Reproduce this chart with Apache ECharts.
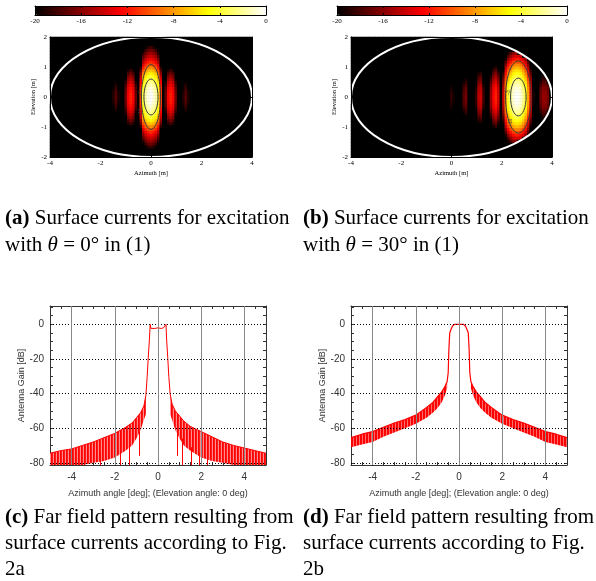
<!DOCTYPE html>
<html>
<head>
<meta charset="utf-8">
<script src="https://cdn.jsdelivr.net/npm/echarts@6.0.0/dist/echarts.min.js"></script>
<style>
  html, body { margin: 0; padding: 0; background: #fff; }
  #chart { width: 596px; height: 581px; }
</style>
</head>
<body>
<div id="chart"></div>
<script>
  // ---- surface currents (dB) ----
  // azimuth profile at elevation 0, from -4 m to 4 m in 0.1 m steps
  var azProfileA = [
    -30, -30, -30, -30, -30, -30, -30, -30, -30, -30,
    -30, -30, -30, -30, -30, -30, -30, -30, -30, -30,
    -30, -30, -30, -30, -24, -19, -17.5, -19, -21, -24,
    -16.5, -12.5, -11.5, -12.5, -17, -24, -10.5, -3.6, -1.5, -0.5,
    0,
    -0.5, -1.5, -3.6, -10.5, -24, -17, -12.5, -11.5, -12.5, -16.5,
    -24, -21, -19, -17.5, -19, -24, -30, -30, -30, -30,
    -30, -30, -30, -30, -30, -30, -30, -30, -30, -30,
    -30, -30, -30, -30, -30, -30, -30, -30, -30, -30
  ]
  var azProfileB = [
    -30, -30, -30, -30, -30, -30, -30, -30, -30, -30,
    -30, -30, -30, -30, -30, -30, -30, -30, -30, -30,
    -30, -30, -30, -30, -30, -30, -30, -30, -30, -30,
    -30, -30, -30, -30, -30, -30, -30, -30, -30, -22,
    -18.5,
    -19.5, -25, -30, -24, -17.5, -16.5, -20, -25, -24, -18.5,
    -14.5, -14, -18, -25, -21, -15.5, -12.5, -11.5, -13.5, -25,
    -14, -7.5, -4, -2, -0.7, -0.05, -0.05, -0.7, -2, -4,
    -7.5, -12.5, -19, -25, -21, -17, -15.5, -15.5, -16.5, -19
  ]
  // elevation profile, from -2 m to 2 m in 0.1 m steps
  var elProfileA = [
    -24, -22, -20, -18.3, -16.7, -15.3, -14, -12.7, -11.3, -9.8,
    -8.2, -6.6, -5.2, -4, -3, -2.1, -1.3, -0.7, -0.3, -0.1,
    0,
    -0.1, -0.3, -0.7, -1.3, -2.1, -3, -4, -5.2, -6.6, -8.2,
    -9.8, -11.3, -12.7, -14, -15.3, -16.7, -18.3, -20, -22, -24
  ]
  var elProfileB = [
    -25, -23.5, -21.5, -19.3, -17.3, -15.3, -13.5, -11.7, -10, -8.4,
    -7, -5.7, -4.6, -3.6, -2.7, -1.9, -1.2, -0.6, -0.3, -0.1,
    0,
    -0.1, -0.3, -0.6, -1.2, -1.9, -2.7, -3.6, -4.6, -5.7, -7,
    -8.4, -10, -11.7, -13.5, -15.3, -17.3, -19.3, -21.5, -23.5, -25
  ]
  var azStart = -4, elStart = -2, cellStep = 0.1
  // aperture outline [centre az, centre el, half width, half height]
  var aperture = [[0, 0, 4, 2]]
  // -3 dB and -10 dB contours of the main lobe
  var contoursA = [[0, 0, 0.28, 0.6], [0, 0, 0.38, 1.08]]
  var contoursB = [[2.66, 0, 0.31, 0.63], [2.66, 0, 0.51, 1.2]]
  var contourTexts = ['-3', '-10']
  var contourLabelPosA = [[-0.4, 0.12], [-0.42, -0.5]]
  var contourLabelPosB = [[2.27, 0.15], [2.36, -0.85]]
  var colorbarTicks = [-20, -16, -12, -8, -4, 0]

  // ---- far field patterns (dB) ----
  var angleSideLeftC = [-5, -4.5, -4, -3.5, -3, -2.5, -2, -1.5, -1.2, -1, -0.8, -0.65, -0.56]
  var upperLeftC = [-74.5, -73, -72, -70, -68, -65.5, -63, -59.5, -57, -54, -51, -47, -41]
  var lowerLeftC = [-81.3, -81.3, -81.3, -81.3, -80, -79, -77, -73, -70, -66, -61, -55, -52]
  var angleSideRightC = [0.56, 0.65, 0.8, 1, 1.2, 1.5, 2, 2.5, 3, 3.5, 4, 4.5, 5]
  var upperRightC = [-40, -46, -50, -53, -56, -59, -62, -65, -68, -70, -71.5, -73, -74.5]
  var lowerRightC = [-52, -55, -61, -66, -70, -73, -77, -79, -80, -81.3, -81.3, -81.3, -81.3]
  var angleMainC = [-0.5, -0.45, -0.4, -0.36, -0.33, -0.25, -0.15, 0, 0.15, 0.25, 0.33, 0.37, 0.4, 0.45, 0.5]
  var gainMainC = [-30, -19, -9, 0, -2.3, -2, -2.4, -2, -2.4, -2, -2.3, 0, -9, -19, -30]
  var nullAngleC = [-3.43, -2.66, -1.74, -1.35, -0.85, 0.88, 1.11, 1.52, 1.9, 2.26]
  var nullTopC = [-76, -74, -73, -69, -62, -62, -66, -71, -74, -76]
  var nullBottomC = [-81.3, -81.3, -81.3, -81.3, -76, -76, -81.3, -81.3, -81.3, -81.3]

  var angleSideLeftD = [-5, -4.5, -4, -3.5, -3, -2.5, -2, -1.5, -1.2, -1, -0.8, -0.65, -0.55]
  var upperLeftD = [-65.5, -63.5, -62, -59.5, -57, -55, -52.5, -48, -45, -42, -39, -36, -33]
  var lowerLeftD = [-71, -69.5, -68, -65, -62.5, -60, -57.5, -54, -51, -48.5, -45, -41, -37]
  var angleSideRightD = [0.55, 0.65, 0.8, 1, 1.2, 1.5, 2, 2.5, 3, 3.5, 4, 4.5, 5]
  var upperRightD = [-33, -36, -39, -42, -45, -48, -52.5, -55, -57, -59.5, -62, -63.5, -65.5]
  var lowerRightD = [-37, -41, -45, -48.5, -51, -54, -57.5, -60, -62.5, -65, -68, -69.5, -71]
  var angleMainD = [-0.5, -0.47, -0.43, -0.38, -0.3, -0.2, 0, 0.2, 0.3, 0.38, 0.43, 0.47, 0.5]
  var gainMainD = [-28, -15, -5, -3.3, -1, 0, 0, 0, -1, -3.3, -5, -15, -28]

  var gainTicks = [0, -20, -40, -60, -80]
  var angleTicks = [-4, -2, 0, 2, 4]
  var gainMin = -81.3, gainMax = 10.6

  var hot = ['#000000', '#550000', '#aa0000', '#ff0000', '#ff5500', '#ffaa00', '#ffff00', '#ffff80', '#ffffff']
  var serif = 'Liberation Serif', sans = 'Liberation Sans'

  var grids = [], xAxes = [], yAxes = [], series = [], visualMaps = []

  function addGrid(left, top, width, height, extra) {
    grids.push(Object.assign({ left: left, top: top, width: width, height: height, outerBoundsMode: 'none' }, extra || {}))
    return grids.length - 1
  }
  function addX(opt) { xAxes.push(opt); return xAxes.length - 1 }
  function addY(opt) { yAxes.push(opt); return yAxes.length - 1 }

  function cellLabels(n, start) {
    var out = []
    for (var i = 0; i < n; i++) out.push((start + i * cellStep).toFixed(1))
    return out
  }

  function heatData(azProf, elProf) {
    var out = []
    for (var i = 0; i < azProf.length; i++) {
      for (var j = 0; j < elProf.length; j++) {
        var az = azStart + i * cellStep
        var el = elStart + j * cellStep
        var inside = (az * az) / 16 + (el * el) / 4 <= 1
        out.push([i, j, inside ? Math.max(-20, azProf[i] + elProf[j]) : -20])
      }
    }
    return out
  }

  function ellipseItem(color, width) {
    return function (params, api) {
      var c = api.coord([api.value(0), api.value(1)])
      var s = api.size([api.value(2), api.value(3)])
      return {
        type: 'ellipse',
        shape: { cx: c[0], cy: c[1], rx: s[0], ry: s[1] },
        style: { fill: null, stroke: color, lineWidth: width }
      }
    }
  }

  function contourLabelItem(params, api) {
    var p = api.coord([api.value(0), api.value(1)])
    return {
      type: 'text', x: p[0], y: p[1], rotation: Math.PI / 2,
      style: { text: contourTexts[params.dataIndex], fontFamily: serif, fontSize: 5.5, fill: '#444', align: 'center', verticalAlign: 'middle' }
    }
  }

  function mapPanel(rect, azProf, elProf, contours, labelPos, cbRect) {
    // heat layer on category cells
    var g = addGrid(rect[0], rect[1], rect[2], rect[3], { show: true, backgroundColor: '#000', borderWidth: 0 })
    var hx = addX({ gridIndex: g, type: 'category', data: cellLabels(azProf.length, azStart), show: false })
    var hy = addY({ gridIndex: g, type: 'category', data: cellLabels(elProf.length, elStart), show: false })
    series.push({
      type: 'heatmap', xAxisIndex: hx, yAxisIndex: hy, data: heatData(azProf, elProf),
      progressive: 0, silent: true, itemStyle: { borderWidth: 0 }
    })
    var heatIndex = series.length - 1

    // metric axes on top of it
    var o = addGrid(rect[0], rect[1], rect[2], rect[3])
    var axisCommon = {
      gridIndex: o, type: 'value', z: 10,
      axisLine: { show: true, onZero: false, lineStyle: { color: '#000', width: 1 } },
      axisTick: { show: true, inside: true, length: 3, lineStyle: { color: '#000' } },
      splitLine: { show: false },
      nameTextStyle: { fontFamily: serif, fontSize: 6.5, color: '#000' }
    }
    var labelStyle = { fontFamily: serif, fontSize: 7, color: '#000', margin: 3 }
    var ox = addX(Object.assign({}, axisCommon, {
      position: 'bottom', min: -4, max: 4, interval: 2,
      axisLabel: labelStyle, name: 'Azimuth [m]', nameLocation: 'middle', nameGap: 13
    }))
    addX(Object.assign({}, axisCommon, { position: 'top', min: -4, max: 4, interval: 2, axisLabel: { show: false } }))
    var oy = addY(Object.assign({}, axisCommon, {
      position: 'left', min: -2, max: 2, interval: 1,
      axisLabel: labelStyle, name: 'Elevation [m]', nameLocation: 'middle', nameGap: 11
    }))
    addY(Object.assign({}, axisCommon, { position: 'right', min: -2, max: 2, interval: 1, axisLabel: { show: false } }))
    series.push({
      type: 'custom', xAxisIndex: ox, yAxisIndex: oy, silent: true, z: 5,
      renderItem: ellipseItem('#3a3a3a', 1), data: contours
    })
    series.push({
      type: 'custom', xAxisIndex: ox, yAxisIndex: oy, silent: true, z: 5,
      renderItem: contourLabelItem, data: labelPos
    })
    series.push({
      type: 'custom', xAxisIndex: ox, yAxisIndex: oy, silent: true, z: 6,
      renderItem: ellipseItem('#fff', 2), data: aperture
    })

    // colour bar
    visualMaps.push({
      type: 'continuous', seriesIndex: heatIndex, min: -20, max: 0,
      orient: 'horizontal', left: cbRect[0], top: cbRect[1],
      itemHeight: cbRect[2], itemWidth: cbRect[3], padding: 0,
      calculable: false, realtime: false, hoverLink: false,
      text: null, showLabel: false,
      inRange: { color: hot }
    })
    var c = addGrid(cbRect[0], cbRect[1], cbRect[2], cbRect[3])
    var cbAxis = {
      gridIndex: c, type: 'value', min: -20, max: 0, interval: 4, z: 10,
      axisLine: { show: true, onZero: false, lineStyle: { color: '#000', width: 1 } },
      axisTick: { show: true, inside: true, length: 2, lineStyle: { color: '#000' } },
      splitLine: { show: false }
    }
    addX(Object.assign({}, cbAxis, {
      position: 'bottom',
      axisLabel: { fontFamily: serif, fontSize: 7, color: '#000', margin: 3, customValues: colorbarTicks }
    }))
    addX(Object.assign({}, cbAxis, { position: 'top', axisLabel: { show: false } }))
    addY({ gridIndex: c, type: 'value', min: 0, max: 1, z: 10, position: 'left',
      axisLine: { show: true, onZero: false, lineStyle: { color: '#000' } }, axisTick: { show: false }, axisLabel: { show: false }, splitLine: { show: false } })
    addY({ gridIndex: c, type: 'value', min: 0, max: 1, z: 10, position: 'right',
      axisLine: { show: true, onZero: false, lineStyle: { color: '#000' } }, axisTick: { show: false }, axisLabel: { show: false }, splitLine: { show: false } })
  }

  function pairs(xs, ys) {
    return xs.map(function (x, i) { return [x, ys[i]] })
  }

  // vertical hatching, like the dense oscillating trace
  function hatch(colors) {
    var cv = document.createElement('canvas')
    cv.width = colors.length
    cv.height = 4
    var ctx = cv.getContext('2d')
    colors.forEach(function (col, i) { ctx.fillStyle = col; ctx.fillRect(i, 0, 1, 4) })
    return { image: cv, repeat: 'repeat' }
  }

  // side-lobe band between the lower and upper traces, one polygon per side
  function bandItem(side, fill) {
    return function (params, api) {
      if (params.dataIndex !== 0) return null
      var pts = []
      side.x.forEach(function (a, i) { pts.push(api.coord([a, side.up[i]])) })
      for (var i = side.x.length - 1; i >= 0; i--) pts.push(api.coord([side.x[i], side.low[i]]))
      return { type: 'polygon', shape: { points: pts }, style: { fill: fill, stroke: null } }
    }
  }

  function farPanel(rect, sides, mainX, mainY, bandFill, traceWidth, nulls) {
    var g = addGrid(rect[0], rect[1], rect[2], rect[3])
    var minorAngles = []
    for (var a = -4.5; a <= 4.5; a += 0.5) minorAngles.push(a)
    var minorGains = []
    for (var v = -80; v <= 10; v += 5) minorGains.push(v)
    var common = {
      gridIndex: g, type: 'value',
      axisLine: { show: true, onZero: false, lineStyle: { color: '#333', width: 1 } },
      splitLine: { show: false }
    }
    var labels = { fontFamily: sans, fontSize: 10, color: '#333' }
    var x = addX(Object.assign({}, common, {
      position: 'bottom', min: -5, max: 5,
      axisTick: { show: true, inside: true, length: 3, customValues: minorAngles, lineStyle: { color: '#333' } },
      axisLabel: Object.assign({ margin: 7, customValues: angleTicks }, labels),
      name: 'Azimuth angle [deg]; (Elevation angle: 0 deg)', nameLocation: 'middle', nameGap: 24,
      nameTextStyle: { fontFamily: sans, fontSize: 9, color: '#333' }
    }))
    addX(Object.assign({}, common, {
      position: 'top', min: -5, max: 5,
      axisTick: { show: true, inside: true, length: 3, customValues: minorAngles, lineStyle: { color: '#333' } },
      axisLabel: { show: false }
    }))
    var y = addY(Object.assign({}, common, {
      position: 'left', min: gainMin, max: gainMax,
      axisTick: { show: true, inside: true, length: 3, customValues: minorGains, lineStyle: { color: '#333' } },
      axisLabel: Object.assign({ margin: 6, customValues: gainTicks }, labels),
      name: 'Antenna Gain [dB]', nameLocation: 'middle', nameGap: 20,
      nameTextStyle: { fontFamily: sans, fontSize: 9, color: '#333' }
    }))
    addY(Object.assign({}, common, {
      position: 'right', min: gainMin, max: gainMax,
      axisTick: { show: true, inside: true, length: 3, customValues: minorGains, lineStyle: { color: '#333' } },
      axisLabel: { show: false }
    }))

    var gridLines = gainTicks.map(function (t) {
      return { yAxis: t, lineStyle: { color: '#000', type: [1, 2], width: 1 } }
    }).concat(angleTicks.map(function (t) {
      return { xAxis: t, lineStyle: { color: '#888', type: 'solid', width: 1 } }
    }))

    // grid lines first, under everything
    series.push({
      type: 'line', xAxisIndex: x, yAxisIndex: y, data: [], silent: true, z: 1,
      markLine: { silent: true, symbol: ['none', 'none'], label: { show: false }, data: gridLines }
    })
    sides.forEach(function (s) {
      series.push({
        type: 'custom', xAxisIndex: x, yAxisIndex: y, silent: true, z: 3, clip: true,
        data: pairs(s.x, s.up), renderItem: bandItem(s, bandFill)
      })
    })
    var trace = pairs(sides[0].x, sides[0].up).concat(pairs(mainX, mainY), pairs(sides[1].x, sides[1].up))
    var spikeLines = nulls ? nulls.x.map(function (a, i) {
      return [{ coord: [a, nulls.top[i]] }, { coord: [a, nulls.bottom[i]] }]
    }) : []
    series.push({
      type: 'line', xAxisIndex: x, yAxisIndex: y, data: trace, symbol: 'none', silent: true, z: 4,
      lineStyle: { color: '#ff0000', width: traceWidth },
      markLine: { silent: true, symbol: ['none', 'none'], label: { show: false },
        lineStyle: { color: '#ff0000', type: 'solid', width: 1 }, data: spikeLines }
    })
  }

  mapPanel([50, 37, 202, 120], azProfileA, elProfileA, contoursA, contourLabelPosA, [35, 6, 231, 9])
  mapPanel([351, 37, 201, 120], azProfileB, elProfileB, contoursB, contourLabelPosB, [337, 6, 230, 9])
  farPanel([50, 306, 216, 159], [
    { x: angleSideLeftC, up: upperLeftC, low: lowerLeftC },
    { x: angleSideRightC, up: upperRightC, low: lowerRightC }
  ], angleMainC, gainMainC, hatch(['#ff0000', '#ff1a1a', '#ff8c8c']), 1, { x: nullAngleC, top: nullTopC, bottom: nullBottomC })
  farPanel([351, 306, 216, 159], [
    { x: angleSideLeftD, up: upperLeftD, low: lowerLeftD },
    { x: angleSideRightD, up: upperRightD, low: lowerRightD }
  ], angleMainD, gainMainD, hatch(['#ff0000', '#ff0000', '#ff6a6a']), 1.2, null)

  // captions
  var capFont = 21
  var rich = {
    b: { fontFamily: serif, fontSize: capFont, fontWeight: 'bold', fill: '#000' },
    i: { fontFamily: serif, fontSize: capFont, fontStyle: 'italic', fill: '#000' }
  }
  function caption(x, y, text) {
    return {
      type: 'text', left: x, top: y - capFont * 0.6, silent: true,
      style: { text: text, fontFamily: serif, fontSize: capFont, fill: '#000', rich: rich }
    }
  }
  var captions = [
    caption(5, 221, '{b|(a)} Surface currents for excitation'),
    caption(5, 248, 'with {i|θ} = 0° in (1)'),
    caption(303, 221, '{b|(b)} Surface currents for excitation'),
    caption(303, 248, 'with {i|θ} = 30° in (1)'),
    caption(5, 520, '{b|(c)} Far field pattern resulting from'),
    caption(5, 546, 'surface currents according to Fig.'),
    caption(5, 572, '2a'),
    caption(303, 520, '{b|(d)} Far field pattern resulting from'),
    caption(303, 546, 'surface currents according to Fig.'),
    caption(303, 572, '2b')
  ]

  var chart = echarts.init(document.getElementById('chart'))
  chart.setOption({
    animation: false,
    backgroundColor: '#fff',
    textStyle: { fontFamily: sans },
    grid: grids,
    xAxis: xAxes,
    yAxis: yAxes,
    visualMap: visualMaps,
    series: series,
    graphic: captions
  })
</script>
</body>
</html>
